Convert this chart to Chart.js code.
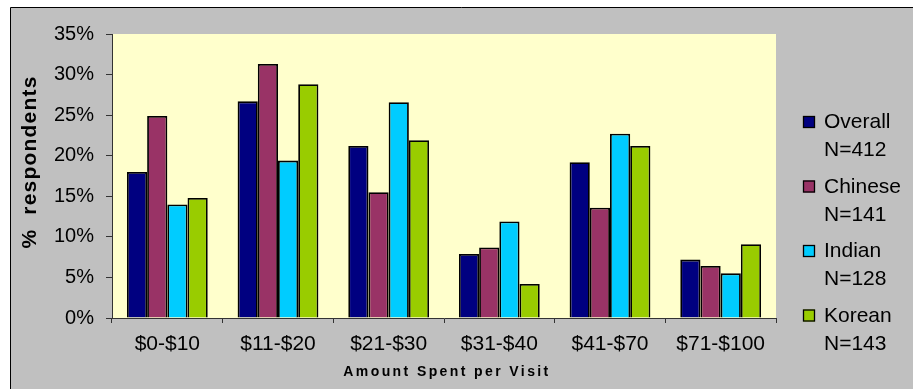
<!DOCTYPE html>
<html>
<head>
<meta charset="utf-8">
<script src="https://cdn.jsdelivr.net/npm/chart.js@4/dist/chart.umd.min.js"></script>
<style>
html,body{margin:0;padding:0;background:#fff;}
canvas{display:block;}
</style>
</head>
<body>
<canvas id="c" width="913" height="389"></canvas>
<script>
const categories = ['$0-$10', '$11-$20', '$21-$30', '$31-$40', '$41-$70', '$71-$100'];
const seriesNames = ['Overall', 'Chinese', 'Indian', 'Korean'];
const seriesN = ['N=412', 'N=141', 'N=128', 'N=143'];
const overall = [18.0, 26.7, 21.2, 7.9, 19.2, 7.2];
const chinese = [24.9, 31.3, 15.5, 8.7, 13.6, 6.4];
const indian  = [14.0, 19.4, 26.6, 11.9, 22.7, 5.5];
const korean  = [14.8, 28.8, 21.9, 4.2, 21.2, 9.1];
const yTicks = [0, 5, 10, 15, 20, 25, 30, 35];
const xTitle = 'Amount Spent per Visit';
const yTitle = '%  respondents';

const colors = ['#000080', '#993366', '#00CCFF', '#99CC00'];
const seriesValues = [overall, chinese, indian, korean];
const FONT = '"Liberation Sans", Arial, sans-serif';

const framePlugin = {
  id: 'frame',
  beforeDraw(chart) {
    const ctx = chart.ctx;
    const a = chart.chartArea;
    ctx.save();
    ctx.fillStyle = '#C0C0C0';
    ctx.fillRect(10, 8, chart.width - 10, chart.height - 8);
    ctx.strokeStyle = '#000';
    ctx.lineWidth = 1;
    ctx.beginPath();
    ctx.moveTo(10.5, chart.height);
    ctx.lineTo(10.5, 7.5);
    ctx.lineTo(chart.width, 7.5);
    ctx.stroke();
    ctx.fillStyle = '#FFFFCC';
    ctx.fillRect(a.left, a.top, a.right - a.left, a.bottom - a.top);
    ctx.restore();
  },
  afterDraw(chart) {
    const ctx = chart.ctx;
    const a = chart.chartArea;
    ctx.save();
    // x title
    ctx.fillStyle = '#000';
    ctx.font = 'bold 14px ' + FONT;
    ctx.letterSpacing = '2.4px';
    ctx.textAlign = 'center';
    ctx.textBaseline = 'alphabetic';
    ctx.fillText(xTitle, (a.left + a.right) / 2 + 3, 376);
    ctx.letterSpacing = '0px';
    // y title
    ctx.save();
    ctx.translate(36, 162);
    ctx.rotate(-Math.PI / 2);
    ctx.font = 'bold 21px ' + FONT;
    ctx.letterSpacing = '1.2px';
    ctx.textAlign = 'center';
    ctx.textBaseline = 'alphabetic';
    ctx.fillText(yTitle, 0, 0);
    ctx.restore();
    // legend
    chart.data.datasets.forEach((ds, i) => {
      const base = 128 + i * 64.5;
      ctx.fillStyle = ds.backgroundColor;
      ctx.fillRect(803, base - 12, 12, 12);
      ctx.strokeStyle = '#000';
      ctx.lineWidth = 1.3;
      ctx.strokeRect(803.5, base - 11.5, 11, 11);
      ctx.fillStyle = '#000';
      ctx.font = '21px ' + FONT;
      ctx.textAlign = 'left';
      ctx.fillText(ds.label, 824, base);
      ctx.fillText(seriesN[i], 824, base + 28);
    });
    ctx.restore();
  }
};

new Chart(document.getElementById('c'), {
  type: 'bar',
  data: {
    labels: categories,
    datasets: seriesNames.map((n, i) => ({
      label: n,
      data: seriesValues[i],
      backgroundColor: colors[i],
      borderColor: '#000',
      borderWidth: 1.8,
      barPercentage: 1.0,
      categoryPercentage: 0.73
    }))
  },
  options: {
    responsive: false,
    animation: false,
    devicePixelRatio: 1,
    layout: { padding: { top: 34, right: 137, left: 0, bottom: 0 } },
    plugins: { legend: { display: false }, tooltip: { enabled: false } },
    scales: {
      x: {
        afterFit(s) { s.height = 71; },
        grid: { drawOnChartArea: false, drawTicks: true, tickLength: 5, color: '#333', offset: true },
        border: { display: true, color: '#333', width: 1 },
        ticks: { color: '#000', font: { family: FONT, size: 21 }, padding: 9, maxRotation: 0 }
      },
      y: {
        min: 0, max: 35,
        afterFit(s) { s.width = 112; },
        afterBuildTicks(s) { s.ticks = yTicks.map(v => ({ value: v })); },
        grid: { drawOnChartArea: false, drawTicks: true, tickLength: 6, color: '#333' },
        border: { display: true, color: '#333', width: 1 },
        ticks: { color: '#000', font: { family: FONT, size: 20 }, padding: 12, callback: v => v + '%' }
      }
    }
  },
  plugins: [framePlugin]
});
</script>
</body>
</html>
